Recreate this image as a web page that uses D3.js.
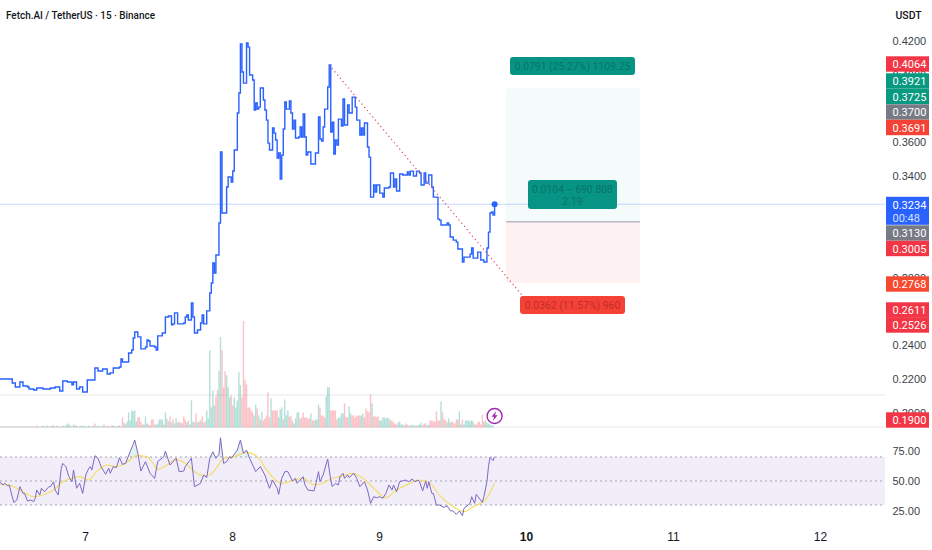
<!DOCTYPE html>
<html>
<head>
<meta charset="utf-8">
<script src="https://cdn.jsdelivr.net/npm/d3@7"></script>
<style>
html, body { margin: 0; padding: 0; background: #fff; }
svg { display: block; font-family: Roboto, sans-serif; }
.axis text { fill: #3c3f47; font-size: 11px; }
</style>
</head>
<body>
<svg id="chart" width="932" height="550"></svg>
<script>
// 15 minute bars, counted from the left edge of the picture
const priceBars = [0,7,8,10,13,15,18,19,22,24,28,33,36,39,41,44,47,48,50,52,54,57,60,62,64,67,70,72,74,78,79,80,83,84,86,87,88,90,92,95,96,97,98,101,102,103,106,108,110,112,113,114,116,120,121,122,123,125,126,127,129,131,132,133,135,137,138,139,140,141,142,143,144,145,147,148,149,151,152,153,155,156,157,158,159,161,162,163,165,166,167,168,169,170,171,172,173,174,175,176,178,179,180,181,182,183,184,185,186,187,189,190,191,192,193,195,196,197,198,199,200,201,203,205,206,207,208,209,210,211,212,214,215,216,217,218,219,220,221,223,224,225,227,228,230,231,232,233,235,236,237,238,240,241,242,244,245,246,248,250,251,254,255,257,258,259,261,263,266,267,268,270,272,274,275,277,278,280,282,283,285,286,287,288,292,293,294,296,298,299,301,302,303,307,308,309,312,314,316,318,319,320,321,322,323];
const priceValues = [.2200,.2200,.2176,.2153,.2182,.2159,.2153,.2141,.2135,.2147,.2141,.2147,.2153,.2129,.2188,.2182,.2165,.2182,.2141,.2153,.2123,.2194,.2194,.2265,.2247,.2259,.2230,.2236,.2265,.2271,.2318,.2301,.2301,.2354,.2372,.2443,.2478,.2449,.2378,.2389,.2431,.2425,.2395,.2389,.2372,.2455,.2472,.2567,.2573,.2520,.2526,.2591,.2526,.2531,.2567,.2579,.2549,.2650,.2567,.2472,.2490,.2531,.2579,.2526,.2603,.2709,.2768,.2886,.2827,.2934,.2934,.3123,.3543,.3182,.3182,.3336,.3395,.3366,.3431,.3555,.3774,.3892,.4182,.4017,.3951,.4188,.4164,.3999,.3969,.3792,.3833,.3798,.3809,.3922,.3922,.3851,.3792,.3732,.3596,.3555,.3685,.3655,.3614,.3507,.3537,.3383,.3525,.3679,.3839,.3797,.3845,.3774,.3679,.3732,.3626,.3632,.3691,.3632,.3768,.3632,.3525,.3543,.3472,.3472,.3537,.3537,.3750,.3620,.3608,.3691,.3797,.3928,.4058,.3661,.3720,.3531,.3614,.3584,.3738,.3697,.3857,.3703,.3821,.3774,.3868,.3868,.3809,.3732,.3644,.3685,.3644,.3715,.3573,.3513,.3276,.3348,.3306,.3348,.3300,.3276,.3330,.3336,.3419,.3336,.3383,.3312,.3413,.3407,.3425,.3407,.3430,.3401,.3430,.3419,.3348,.3419,.3359,.3407,.3336,.3276,.3276,.3146,.3140,.3111,.3123,.3111,.3040,.3022,.3010,.2969,.2969,.2892,.2921,.2939,.2975,.2915,.2951,.2904,.2892,.2975,.3069,.3182,.3188,.3170,.3234];

// volume per bar in thousands, negative means a down bar
const volumes = [1,-1,1,-1,-1,1,1,-1,1,-1,1,-1,1,1,-1,-1,1,-1,1,-1,
  1,-1,1,1,-2,1,-1,1,2,1,-1,2,1,-1,2,-2,1,2,-1,1,
  -1,2,1,2,4,3,-2,1,3,2,-2,1,-1,2,1,2,-1,1,2,-1,
  1,2,-4,1,2,-1,1,2,-3,1,-2,1,1,-2,2,1,-1,2,-2,1,
  -10,-5,3,6,15,7,17,16,17,6,-10,-10,-6,3,-3,11,4,-3,2,-8,
  -8,-3,3,4,8,8,8,-3,15,9,-6,-11,5,-8,4,9,5,-6,-5,4,
  -11,-8,5,-7,3,27,6,-5,-14,5,6,-7,-11,5,-6,17,9,77,20,37,
  22,-31,-37,56,90,-77,-40,-56,52,40,30,-32,-22,30,20,27,55,42,-30,-106,
  -47,-43,-20,-20,-17,-15,12,23,-19,12,-8,16,-7,-9,-12,-35,-10,29,-17,-17,
  -17,-17,10,18,20,-8,28,12,17,-11,-11,-7,4,9,15,15,-9,-10,-15,-10,
  -10,-9,-9,14,-7,-7,8,8,23,-20,-12,-12,-10,31,40,40,-17,-17,-17,-17,
  -8,10,10,14,14,-24,-10,-10,21,14,-12,-12,-10,-12,-12,-12,12,14,-10,-19,
  -16,-15,-33,24,-11,-11,-10,-11,7,7,10,10,9,10,9,-7,-7,-5,-4,-3,
  5,6,3,3,2,-4,-3,2,-2,3,2,2,-2,2,3,5,2,-4,-4,2,
  3,-7,-7,-6,-6,-16,-7,-7,26,-15,-8,-7,5,9,5,-6,-5,-4,-8,-8,
  16,3,-8,3,7,7,7,6,7,6,-3,-3,-5,-6,-3,-13,-6,7,5,4,3,2,2];

const rsiBars = [0,2,3,5,6,8,9,11,13,15,16,18,20,22,23,24,26,27,29,32,33,35,36,38,40,41,43,45,47,48,50,52,54,56,58,59,60,62,64,66,69,71,72,74,76,78,80,82,85,87,88,90,92,95,98,101,103,107,108,111,115,117,120,121,125,127,131,133,135,137,139,141,143,144,146,148,150,151,155,157,159,161,163,167,170,173,176,178,181,182,184,186,188,191,193,194,196,198,199,201,205,206,208,209,211,214,216,217,219,221,222,224,225,227,228,231,233,235,238,240,242,244,246,248,250,252,254,256,257,259,261,265,267,269,271,273,274,276,278,279,280,282,283,285,287,290,292,294,296,298,300,302,303,307,308,310,311,315,316,318,319,320,322,323];
const rsiValues = [48.9,46.7,48.1,46.1,46.7,36.9,32.2,34.2,45.3,39.7,39.7,33.3,34.2,32.8,35.6,42.5,38.3,43.9,41.1,45.3,45.3,49.4,42.5,38.3,60.6,64.7,62,53.6,49.4,59.2,43.9,48.1,39.7,55,60.6,62,59.2,71.1,68.9,62,55.6,60.6,56.4,62,61.1,69.4,63.9,64.7,74.4,80.6,84.2,73.1,58.3,66.1,56.4,52.2,66.1,70.3,75,63.3,68.9,57.8,58.3,62,68.9,45.3,48.1,55,52.8,68.9,74.4,68.9,72.2,86.1,64.7,66.1,70.3,68.9,75.8,84.2,73.1,75.8,68.9,57.8,62,55,43.9,50.8,43.9,38.9,52.2,57.8,57.8,50,52.2,48.1,50.8,53.6,47.2,42.5,41.7,46.1,57.8,49.4,55,68.3,50.8,45.3,48.1,46.7,53.6,56.4,52.2,55,52.8,56.4,52.2,45.3,49.4,42.5,31.4,36.9,36.1,36.9,35.6,39.7,46.7,42.5,46.7,41.1,49.4,50.8,49.4,51.7,49.4,50.8,49.4,41.7,50,43.9,49.4,39.7,39.7,30,30,28,29.4,25.3,25,22.2,25,21.1,27.2,31.4,36.9,31.4,38.9,32.2,36.9,49.4,62,69.7,67,70.3];
const rsiMaBars = [0,7,13,22,28,35,41,47,52,58,63,70,76,83,89,96,100,103,109,115,121,127,133,137,142,146,153,161,168,170,174,180,184,192,198,205,211,217,222,230,237,244,252,259,268,274,281,287,296,303,309,317,323];
const rsiMaValues = [47.2,46.1,42.5,36.9,38.3,42.5,49.4,52.2,53.6,50.8,57.8,63.3,62,65.6,71.1,70.3,64.7,59.7,63.3,68,64.7,57.8,54.4,55,62,68.9,70.3,73.9,70.3,67.5,59.2,50.8,48,50.8,52.2,46.7,48.1,52.2,53.6,56.4,52.2,43.9,36.1,42.5,48,50.8,48,38.3,28.6,24.4,28.6,34.2,48.1];

// ticks that the tags cover completely are left out
const priceTicks = [0.42,0.40,0.36,0.34,0.28,0.24,0.22,0.20];
const rsiTicks = [75,50,25];
const rsiLevels = [70,50,30];
const dayBars = [55.5,151.5,247.5,343.5,439.5,535.5];
const dayLabels = ["7","8","9","10","11","12"];

// position tool and the dotted line
const toolBars = [330.5,418];
const toolPrices = {target: 0.3921, entry: 0.3130, stop: 0.2768};
const trendBars = [215,341.5];
const trendPrices = [0.4058,0.2690];

// price scale tags, top to bottom
const tagPrices = ["0.4064","0.3921","0.3725","0.3700","0.3691","0.3234","0.3130","0.3005","0.2768","0.2611","0.2526","0.1900"];
const tagColors = ["#f23645","#089981","#089981","#787b86","#f44336","#2962ff","#787b86","#f23645","#f7492f","#f23645","#f23645","#f23645"];

const W = 932, H = 550, paneRight = 885;
const svg = d3.select("#chart");

const x = d3.scaleLinear().domain([0,576]).range([0,882]);
const y = d3.scaleLinear().domain([0.22,0.42]).range([379,41]);
const vol = d3.scaleLinear().domain([0,106]).range([427.5,321]);
const rsi = d3.scaleLinear().domain([25,75]).range([511,451]);

// pane separators
[395,427].forEach(v => {
  svg.append("line").attr("x1",0).attr("x2",paneRight).attr("y1",v).attr("y2",v)
    .attr("stroke","#e8e8ea").attr("stroke-width",1);
});

// volume
svg.append("g").selectAll("rect").data(volumes).join("rect")
  .attr("x",(d,i) => x(i)-0.7)
  .attr("width",1.4)
  .attr("y",d => vol(Math.abs(d)))
  .attr("height",d => vol(0)-vol(Math.abs(d)))
  .attr("fill",d => d < 0 ? "rgba(242,54,69,0.3)" : "rgba(8,153,129,0.3)");

// last price line
svg.append("line").attr("x1",0).attr("x2",paneRight)
  .attr("y1",y(0.3234)).attr("y2",y(0.3234))
  .attr("stroke","#2962ff").attr("stroke-opacity",0.25).attr("stroke-width",1);

// position tool
svg.append("rect").attr("x",x(toolBars[0])).attr("width",x(toolBars[1])-x(toolBars[0]))
  .attr("y",y(toolPrices.target)).attr("height",y(toolPrices.entry)-y(toolPrices.target))
  .attr("fill","rgba(8,153,129,0.04)");
svg.append("rect").attr("x",x(toolBars[0])).attr("width",x(toolBars[1])-x(toolBars[0]))
  .attr("y",y(toolPrices.entry)).attr("height",y(toolPrices.stop)-y(toolPrices.entry))
  .attr("fill","rgba(242,54,69,0.07)");
svg.append("line").attr("x1",x(toolBars[0])).attr("x2",x(toolBars[1]))
  .attr("y1",y(toolPrices.entry)).attr("y2",y(toolPrices.entry))
  .attr("stroke","#9a9ca3").attr("stroke-width",1);

// price line
const priceData = priceBars.map((b,i) => [b,priceValues[i]]);
svg.append("path").datum(priceData)
  .attr("fill","none").attr("stroke","#2962ff").attr("stroke-width",1.4)
  .attr("d",d3.line().x(d => x(d[0])).y(d => y(d[1])).curve(d3.curveStepAfter));

// dotted line from the high
svg.append("line")
  .attr("x1",x(trendBars[0])).attr("y1",y(trendPrices[0]))
  .attr("x2",x(trendBars[1])).attr("y2",y(trendPrices[1]))
  .attr("stroke","#e0475f").attr("stroke-width",1.2).attr("stroke-dasharray","1.2 3");

svg.append("circle").attr("cx",x(323)).attr("cy",y(0.3234)).attr("r",3).attr("fill","#2962ff");

function toolLabel(x0, x1, y0, y1, fill, ink, lines) {
  svg.append("rect").attr("x",x0).attr("y",y0).attr("width",x1-x0).attr("height",y1-y0)
    .attr("rx",3).attr("fill",fill);
  lines.forEach((t,i) => {
    svg.append("text").attr("x",(x0+x1)/2)
      .attr("y",(y0+y1)/2+4-(lines.length-1)*5.5+i*11.5)
      .attr("text-anchor","middle").attr("font-size",10.4).attr("fill",ink).text(t);
  });
}
toolLabel(510,635,57,75,"#089484","#067566",["0.0791 (25.27%) 1109.25"]);
toolLabel(528,617,180,209,"#089484","#067566",["0.0104 − 690.808","2.19"]);
toolLabel(520,625,296,314,"#f44336","#c02c2c",["0.0362 (11.57%) 960"]);

// lightning mark at the end of the volume
const bolt = svg.append("g").attr("transform","translate(" + x(323) + ",416)");
bolt.append("circle").attr("r",7.5).attr("fill","#fff").attr("stroke","#9c27b0").attr("stroke-width",1.4);
bolt.append("path").attr("d","M1.6,-5 L-3,0.8 L-0.4,0.8 L-1.6,5 L3,-0.8 L0.4,-0.8 Z").attr("fill","#9c27b0");

// rsi pane
svg.append("rect").attr("x",0).attr("width",paneRight)
  .attr("y",rsi(70)).attr("height",rsi(30)-rsi(70)).attr("fill","rgba(126,87,194,0.1)");
rsiLevels.forEach(v => {
  svg.append("line").attr("x1",0).attr("x2",paneRight).attr("y1",rsi(v)).attr("y2",rsi(v))
    .attr("stroke","#a5a3b0").attr("stroke-width",1).attr("stroke-dasharray","2 3");
});
const rsiData = rsiBars.map((b,i) => [b,rsiValues[i]]);
svg.append("clipPath").attr("id","over70").append("rect")
  .attr("x",0).attr("y",0).attr("width",paneRight).attr("height",rsi(70));
svg.append("path").datum(rsiData).attr("clip-path","url(#over70)")
  .attr("fill","rgba(8,153,129,0.12)")
  .attr("d",d3.area().x(d => x(d[0])).y0(rsi(70)).y1(d => rsi(d[1])));
svg.append("path").datum(rsiMaBars.map((b,i) => [b,rsiMaValues[i]]))
  .attr("fill","none").attr("stroke","#f4dc6c").attr("stroke-width",1.2)
  .attr("d",d3.line().x(d => x(d[0])).y(d => rsi(d[1])).curve(d3.curveMonotoneX));
svg.append("path").datum(rsiData)
  .attr("fill","none").attr("stroke","#7e67c2").attr("stroke-width",1)
  .attr("d",d3.line().x(d => x(d[0])).y(d => rsi(d[1])));

// axes
const priceAxis = d3.axisRight(y).tickValues(priceTicks).tickFormat(d3.format(".4f")).tickSize(0).tickPadding(0);
svg.append("g").attr("class","axis").attr("transform","translate(892.5,0)").call(priceAxis)
  .call(g => g.select(".domain").remove());
const rsiAxis = d3.axisRight(rsi).tickValues(rsiTicks).tickFormat(d3.format(".2f")).tickSize(0).tickPadding(0);
svg.append("g").attr("class","axis").attr("transform","translate(892.5,0)").call(rsiAxis)
  .call(g => g.select(".domain").remove());
const dayAxis = d3.axisBottom(x).tickValues(dayBars).tickFormat((d,i) => dayLabels[i]).tickSize(0).tickPadding(0);
svg.append("g").attr("class","axis").attr("transform","translate(0,532)").call(dayAxis)
  .call(g => g.select(".domain").remove())
  .call(g => g.selectAll("text").style("font-size","12px").style("fill","#131722")
    .style("font-weight",(d,i) => dayLabels[i] === "10" ? 700 : 400));

// price tags
const tagY = {"0.4064":64,"0.3921":81,"0.3725":96.5,"0.3700":112,"0.3691":127.5,"0.3234":204.5,"0.3130":233,"0.3005":248.5,"0.2768":284,"0.2611":310,"0.2526":325,"0.1900":420};
tagPrices.forEach((t,i) => {
  const cy = tagY[t], tall = t === "0.3234";
  svg.append("rect").attr("x",886).attr("width",43)
    .attr("y",cy-7.7).attr("height",tall ? 28 : 15.4).attr("fill",tagColors[i]);
  svg.append("text").attr("x",892.5).attr("y",cy+4).attr("font-size",11).attr("fill","#fff").text(t);
  if (tall) svg.append("text").attr("x",892.5).attr("y",cy+17).attr("font-size",11).attr("fill","#d5e0ff").text("00:48");
});

svg.append("text").attr("x",895.5).attr("y",19).attr("font-size",10.5).attr("font-weight",500).attr("fill","#131722").text("USDT");
svg.append("text").attr("x",6).attr("y",19).attr("font-size",10.6).attr("font-weight",500)
  .attr("textLength",149).attr("lengthAdjust","spacingAndGlyphs")
  .attr("fill","#131722").text("Fetch.AI / TetherUS · 15 · Binance");
</script>
</body>
</html>
